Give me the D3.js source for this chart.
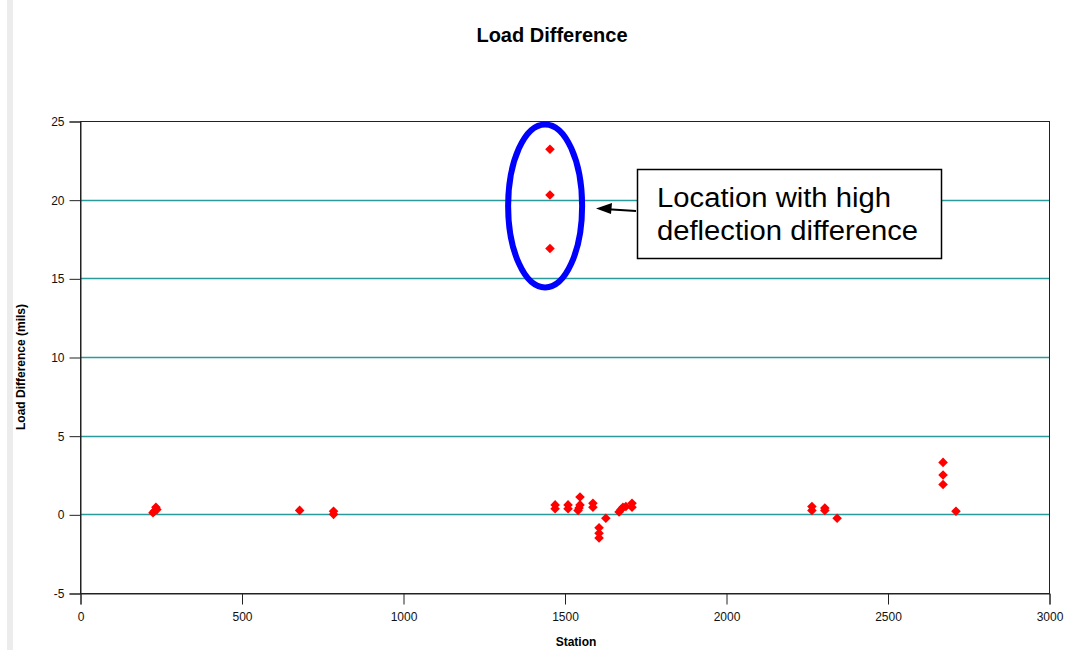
<!DOCTYPE html>
<html>
<head>
<meta charset="utf-8">
<script src="https://cdn.jsdelivr.net/npm/d3@7"></script>
<style>
  html, body { margin: 0; padding: 0; background: #fff; }
  svg { display: block; }
</style>
</head>
<body>
<svg id="chart" width="1067" height="650"></svg>
<script>
const stations = [226, 230, 235, 238, 680, 785, 785,
  1455, 1455, 1455,
  1471, 1471, 1511, 1511, 1548, 1548, 1545, 1542, 1588, 1588,
  1607, 1607, 1607, 1628, 1669, 1675, 1681, 1690, 1709, 1709,
  2266, 2266, 2306, 2306, 2344,
  2672, 2672, 2672, 2712];
const values = [0.1, 0.2, 0.45, 0.3, 0.25, 0.2, 0.0,
  23.2, 20.3, 16.9,
  0.6, 0.35, 0.6, 0.35, 1.1, 0.6, 0.4, 0.25, 0.7, 0.45,
  -0.85, -1.2, -1.5, -0.25, 0.15, 0.3, 0.45, 0.5, 0.7, 0.45,
  0.5, 0.25, 0.4, 0.25, -0.25,
  3.3, 2.5, 1.9, 0.2];
const xTicks = [0, 500, 1000, 1500, 2000, 2500, 3000];
const yTicks = [-5, 0, 5, 10, 15, 20, 25];
const gridValues = [0, 5, 10, 15, 20];
const titleText = "Load Difference";
const xLabel = "Station";
const yLabel = "Load Difference (mils)";
const noteLines = ["Location with high", "deflection difference"];

const svg = d3.select("#chart");
const pL = 80, pR = 1049, pT = 121, pB = 593;
const x = d3.scaleLinear().domain([0, 3000]).range([pL, pR]);
const y = d3.scaleLinear().domain([-5, 25]).range([pB, pT]);
const fmt = d => String(d);

// left grey band
svg.append("rect").attr("x", 7).attr("y", 0).attr("width", 6).attr("height", 650).attr("fill", "#ececec");

// title
svg.append("text").attr("x", 552).attr("y", 42).attr("text-anchor", "middle")
  .attr("font-family", "Liberation Sans, Arial, sans-serif").attr("font-weight", "bold")
  .attr("font-size", 20).text(titleText);

// grid
svg.append("g").selectAll("line").data(gridValues).join("line")
  .attr("x1", pL).attr("x2", pR)
  .attr("y1", d => Math.round(y(d)) + 0.5).attr("y2", d => Math.round(y(d)) + 0.5)
  .attr("stroke", "#2a9a9a").attr("stroke-width", 1.3);

// frame
svg.append("rect").attr("x", pL + 0.5).attr("y", pT + 0.5)
  .attr("width", pR - pL).attr("height", pB - pT)
  .attr("fill", "none").attr("stroke", "#222").attr("stroke-width", 1);

// axes
const yAxis = d3.axisLeft(y).tickValues(yTicks).tickFormat(fmt).tickSize(11).tickPadding(5);
const gy = svg.append("g").attr("transform", `translate(${pL + 0.5},0.5)`).call(yAxis);
gy.select(".domain").attr("stroke", "#222");
gy.selectAll("line").attr("stroke", "#222");
gy.selectAll("text").attr("font-family", "Liberation Sans, Arial, sans-serif").attr("font-size", 12).attr("fill", "#111");

const xAxis = d3.axisBottom(x).tickValues(xTicks).tickFormat(fmt).tickSize(11).tickPadding(8);
const gx = svg.append("g").attr("transform", `translate(0.5,${pB + 0.5})`).call(xAxis);
gx.select(".domain").attr("stroke", "#222");
gx.selectAll("line").attr("stroke", "#222");
gx.selectAll("text").attr("font-family", "Liberation Sans, Arial, sans-serif").attr("font-size", 12).attr("fill", "#111");

// axis labels
svg.append("text").attr("x", 576).attr("y", 646).attr("text-anchor", "middle")
  .attr("font-family", "Liberation Sans, Arial, sans-serif").attr("font-weight", "bold")
  .attr("font-size", 12).text(xLabel);
svg.append("text").attr("transform", "translate(25,367) rotate(-90)").attr("text-anchor", "middle")
  .attr("font-family", "Liberation Sans, Arial, sans-serif").attr("font-weight", "bold")
  .attr("font-size", 12).text(yLabel);

// points
const sym = d3.symbol().type(d3.symbolSquare).size(46);
svg.append("g").selectAll("path").data(stations.map((s, i) => [s, values[i]])).join("path")
  .attr("d", sym)
  .attr("transform", d => `translate(${x(d[0])},${y(d[1])}) rotate(45)`)
  .attr("fill", "#ff0000");

// highlight ellipse
svg.append("ellipse").attr("cx", x(1440)).attr("cy", y(19.6)).attr("rx", 37).attr("ry", 81.5)
  .attr("fill", "none").attr("stroke", "#0000ff").attr("stroke-width", 6);

// annotation box
svg.append("rect").attr("x", 637.5).attr("y", 169.5).attr("width", 304).attr("height", 89)
  .attr("fill", "#fff").attr("stroke", "#000").attr("stroke-width", 1.5);
const noteWidths = [234, 261];
noteLines.forEach((t, i) => {
  svg.append("text").attr("x", 657).attr("y", 207 + i * 33)
    .attr("font-family", "Liberation Sans, Arial, sans-serif").attr("font-size", 27)
    .attr("textLength", noteWidths[i]).attr("lengthAdjust", "spacingAndGlyphs")
    .attr("fill", "#000").text(t);
});
// arrow
svg.append("line").attr("x1", 636).attr("y1", 211).attr("x2", 604).attr("y2", 209)
  .attr("stroke", "#000").attr("stroke-width", 2.2);
svg.append("path").attr("d", "M596,208.5 L612,203 L611,214 Z").attr("fill", "#000");
</script>
</body>
</html>
